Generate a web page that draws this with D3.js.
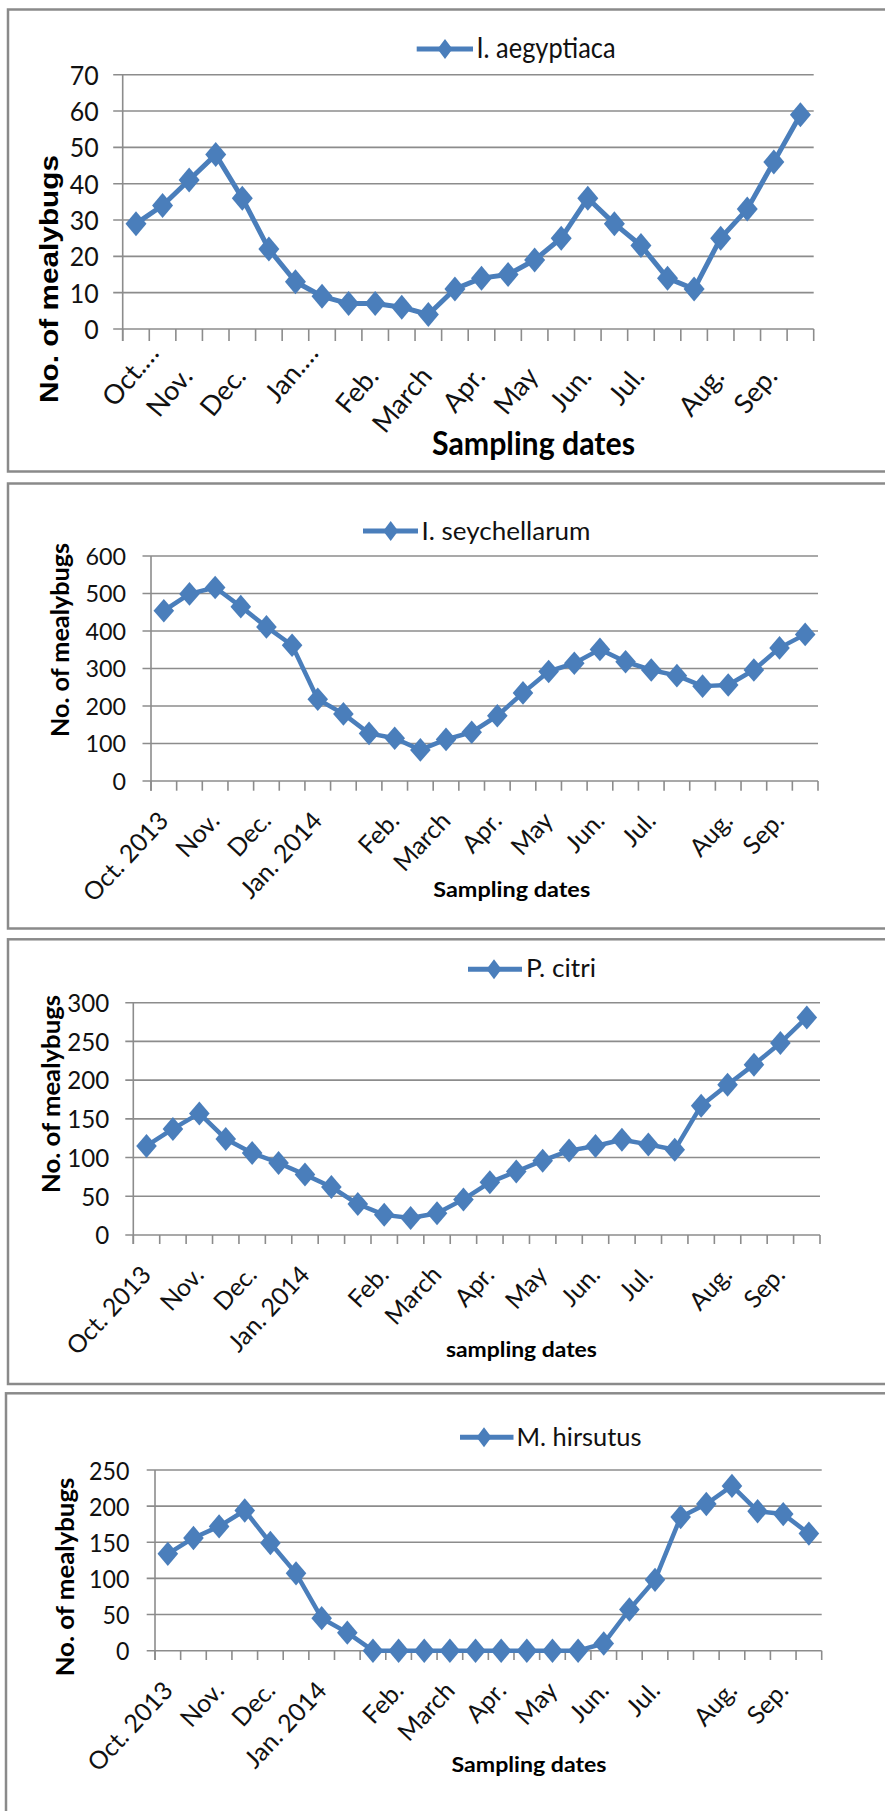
<!DOCTYPE html>
<html><head><meta charset="utf-8">
<script src="https://cdn.jsdelivr.net/npm/d3@7"></script>
<style>body{margin:0;background:#fff} svg{display:block}</style>
</head><body>
<svg id="chart" width="885" height="1811"></svg>
<script>
// ---------- DATA ----------
const tickLabels = ["Oct. 2013","","Nov.","","Dec.","","Jan. 2014","","","Feb.","","March","","Apr.","","May","","Jun.","","Jul.","","","Aug.","","Sep.",""];
const tickLabelsP1 = ["Oct.…","","Nov.","","Dec.","","Jan.…","","","Feb.","","March","","Apr.","","May","","Jun.","","Jul.","","","Aug.","","Sep.",""];

const iAegyptiaca   = [29,34,41,48,36,22,13,9,7,7,6,4,11,14,15,19,25,36,29,23,14,11,25,33,46,59];
const iSeychellarum = [454,499,516,465,411,362,218,179,127,114,83,111,130,174,235,292,314,351,318,296,281,253,256,296,355,391];
const pCitri        = [115,137,157,124,106,93,78,62,40,26,22,28,46,68,82,96,109,115,123,117,110,167,194,220,248,281];
const mHirsutus     = [134,156,172,194,149,107,45,25,0,0,0,0,0,0,0,0,0,10,57,98,185,203,228,193,189,162];

const yTicksP1 = [0,10,20,30,40,50,60,70];
const yTicksP2 = [0,100,200,300,400,500,600];
const yTicksP3 = [0,50,100,150,200,250,300];
const yTicksP4 = [0,50,100,150,200,250];

const seriesNames = ["I. aegyptiaca","I. seychellarum","P. citri","M. hirsutus"];
const xTitles = ["Sampling dates","Sampling dates","sampling dates","Sampling dates"];
const yTitle = "No. of mealybugs";

// ---------- LAYOUT ----------
const BLUE = "#4a7ebb", GRID = "#8c8c8c", BORDER = "#8a8a8a";
const layouts = [
  {box:[8,9.5,471.5], x0:122.7, x1:813.7, yB:329, yT:74.7, tickOut:9.5, xTick:12, yPad:24, yFs:26.5, ySx:0.94,
   xFs:27, xSx:1.0, rot:-50, lx:5, ly:48, trunc:30, lw:5, dw:10.5, dh:12.5,
   leg:{x0:416.7,x1:473,y:49,d:445,tx:476.5,ty:58.3,tw:139,fs:29.5},
   xt:{cx:533.5,y:455,w:203,fs:32},
   yt:{x:58,cy:279,w:248,fs:25,fam:"'Liberation Sans', Arial, sans-serif"}},
  {box:[8,483.5,928.5], x0:151, x1:818, yB:781, yT:556, tickOut:8.5, xTick:9.7, yPad:25, yFs:23.3, ySx:1.0,
   xFs:25, xSx:1.0, rot:-47, lx:6, ly:41, trunc:0, lw:4.5, dw:10.3, dh:11.8,
   leg:{x0:363,x1:418,y:531,d:390.7,tx:421.5,ty:540,tw:169,fs:25.5},
   xt:{cx:511.7,y:896.7,w:157,fs:21},
   yt:{x:69,cy:640,w:194,fs:24,fam:"Lato, sans-serif"}},
  {box:[8,939.3,1384], x0:133.3, x1:820, yB:1235, yT:1002.7, tickOut:8, xTick:9, yPad:24, yFs:24.6, ySx:0.98,
   xFs:24.8, xSx:1.0, rot:-47, lx:6, ly:41, trunc:0, lw:4.5, dw:10.3, dh:12,
   leg:{x0:468,x1:522,y:969.3,d:494,tx:526,ty:976.7,tw:70,fs:24.7},
   xt:{cx:521.4,y:1357,w:151,fs:21},
   yt:{x:60,cy:1094,w:198,fs:24,fam:"Lato, sans-serif"}},
  {box:[6,1393.3,1840], x0:155, x1:821.7, yB:1650.7, yT:1470, tickOut:8.3, xTick:9.3, yPad:25.5, yFs:25.5, ySx:0.91,
   xFs:25, xSx:1.0, rot:-47, lx:6.5, ly:41, trunc:0, lw:4.5, dw:10.3, dh:12.2,
   leg:{x0:460,x1:513.5,y:1437.3,d:484,tx:516.5,ty:1446,tw:125,fs:24.7},
   xt:{cx:529,y:1771.7,w:155,fs:21},
   yt:{x:74,cy:1577,w:198.7,fs:24,fam:"Lato, sans-serif"}}
];

const panels = [
  {values:iAegyptiaca, yTicks:yTicksP1, labels:tickLabelsP1},
  {values:iSeychellarum, yTicks:yTicksP2, labels:tickLabels},
  {values:pCitri, yTicks:yTicksP3, labels:tickLabels},
  {values:mHirsutus, yTicks:yTicksP4, labels:tickLabels}
];

const svg = d3.select("#chart");
svg.append("rect").attr("width",885).attr("height",1811).attr("fill","#fff");

function squeeze(sel, sx){
  sel.each(function(){
    const w = this.getComputedTextLength();
    if (w > 0 && sx !== 1) { this.setAttribute("textLength", w*sx); this.setAttribute("lengthAdjust","spacingAndGlyphs"); }
  });
}
function fit(sel, target){
  sel.attr("textLength", target).attr("lengthAdjust","spacingAndGlyphs");
}
function diamond(w,h){ return `M0,${-h}L${w},0L0,${h}L${-w},0Z`; }

panels.forEach((p, k) => {
  const L = layouts[k];
  const g = svg.append("g");
  g.append("rect").attr("x",L.box[0]).attr("y",L.box[1]).attr("width",900).attr("height",L.box[2]-L.box[1])
    .attr("fill","none").attr("stroke",BORDER).attr("stroke-width",2.5);

  const idx = p.labels.map((d,i)=>i);
  const x = d3.scaleBand().domain(idx).range([L.x0, L.x1]).padding(0);
  const bw = x.bandwidth();
  const y = d3.scaleLinear().domain([0, d3.max(p.yTicks)]).range([L.yB, L.yT]);

  // gridlines
  g.selectAll(".grid").data(p.yTicks).join("line")
    .attr("x1", L.x0 - L.tickOut).attr("x2", L.x1)
    .attr("y1", d=>y(d)).attr("y2", d=>y(d))
    .attr("stroke", GRID).attr("stroke-width", 1.6);
  // y axis line
  g.append("line").attr("x1",L.x0).attr("x2",L.x0).attr("y1",y(d3.max(p.yTicks))).attr("y2",L.yB+L.xTick)
    .attr("stroke",GRID).attr("stroke-width",1.6);
  // x ticks at category boundaries
  const bounds = idx.map(i=>x(i)).concat([x(idx[idx.length-1])+bw]);
  g.selectAll(".xt").data(bounds).join("line")
    .attr("x1",d=>d).attr("x2",d=>d).attr("y1",L.yB).attr("y2",L.yB+L.xTick)
    .attr("stroke",GRID).attr("stroke-width",1.6);

  // y tick labels
  const ya = g.append("g").attr("transform",`translate(${L.x0},0)`)
    .call(d3.axisLeft(y).tickValues(p.yTicks).tickSize(0).tickPadding(L.yPad));
  ya.select(".domain").remove();
  const yt = ya.selectAll("text").attr("font-family","Lato, sans-serif").attr("font-size",L.yFs)
    .attr("fill","#111").attr("dy","0.36em");
  squeeze(yt, L.ySx);

  // x labels
  const xl = g.selectAll(".xl").data(p.labels.map((t,i)=>({t,i})).filter(d=>d.t)).join("text")
    .attr("transform", d=>`translate(${x(d.i)+bw/2+L.lx},${L.yB+L.ly}) rotate(${L.rot})`)
    .attr("text-anchor","end").attr("font-family","Lato, sans-serif").attr("font-size",L.xFs)
    .attr("fill","#111")
    .attr("dx", d => d.t.endsWith("…") ? L.trunc : 0)
    .text(d=>d.t);
  squeeze(xl, L.xSx);

  // series line
  const line = d3.line().x((d,i)=>x(i)+bw/2).y(d=>y(d));
  g.append("path").datum(p.values).attr("d",line).attr("fill","none")
    .attr("stroke",BLUE).attr("stroke-width",L.lw).attr("stroke-linejoin","round");
  g.selectAll(".mk").data(p.values).join("path")
    .attr("transform",(d,i)=>`translate(${x(i)+bw/2},${y(d)})`)
    .attr("d", diamond(L.dw, L.dh)).attr("fill",BLUE);

  // legend
  g.append("line").attr("x1",L.leg.x0).attr("x2",L.leg.x1).attr("y1",L.leg.y).attr("y2",L.leg.y)
    .attr("stroke",BLUE).attr("stroke-width",5);
  g.append("path").attr("transform",`translate(${L.leg.d},${L.leg.y})`).attr("d",diamond(7.5,10)).attr("fill",BLUE);
  fit(g.append("text").attr("x",L.leg.tx).attr("y",L.leg.ty).attr("font-family","Lato, sans-serif")
    .attr("font-size",L.leg.fs).attr("fill","#111").text(seriesNames[k]), L.leg.tw);

  // x title
  fit(g.append("text").attr("x",L.xt.cx).attr("y",L.xt.y).attr("text-anchor","middle")
    .attr("font-family","Lato, sans-serif").attr("font-weight","bold").attr("font-size",L.xt.fs)
    .attr("fill","#000").text(xTitles[k]), L.xt.w);

  // y title
  fit(g.append("text").attr("transform",`translate(${L.yt.x},${L.yt.cy}) rotate(-90)`).attr("text-anchor","middle")
    .attr("font-family",L.yt.fam).attr("font-weight","bold").attr("font-size",L.yt.fs)
    .attr("fill","#000").text(yTitle), L.yt.w);
});
</script>
</body></html>
